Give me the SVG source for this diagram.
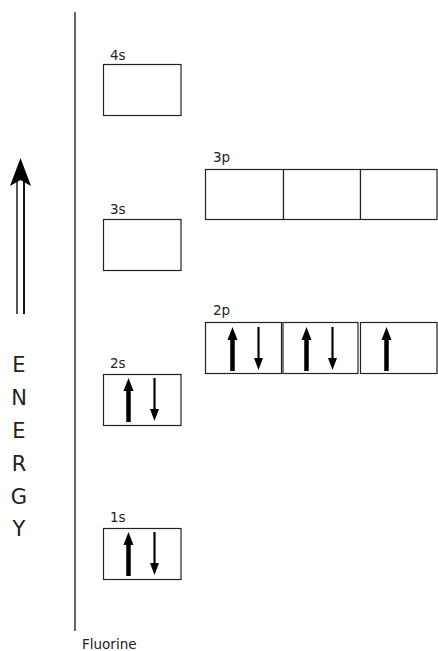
<svg xmlns="http://www.w3.org/2000/svg" width="438" height="651" viewBox="0 0 438 651">
<style>
.box{fill:#fff;stroke:#222;stroke-width:1.2}
.lbl{font-family:"DejaVu Sans","Liberation Sans",sans-serif;font-size:13.5px;fill:#222}
.en{font-family:"DejaVu Sans","Liberation Sans",sans-serif;font-size:21px;fill:#222;text-anchor:middle}
.up{stroke:#000;stroke-width:4.5}
.dn{stroke:#000;stroke-width:2.2}
</style>
<defs>
<symbol id="upA" overflow="visible"><line class="up" x1="0" y1="44" x2="0" y2="10"/><polygon points="0,0 -5,13 5,13" fill="#000"/></symbol>
<symbol id="dnA" overflow="visible"><line class="dn" x1="0" y1="0" x2="0" y2="34"/><polygon points="0,43 -4.5,31 4.5,31" fill="#000"/></symbol>
</defs>
<g id="axis">
<line x1="75" y1="12" x2="75" y2="631" stroke="#333" stroke-width="1.5"/>
<line x1="17" y1="176" x2="17" y2="314" stroke="#555" stroke-width="2"/>
<line x1="24" y1="176" x2="24" y2="314" stroke="#111" stroke-width="2"/>
<polygon points="20.5,158 10,186 20.5,180 31,186" fill="#000"/>
<text class="en" x="19" y="372">E</text>
<text class="en" x="19" y="405">N</text>
<text class="en" x="19" y="438">E</text>
<text class="en" x="19" y="471">R</text>
<text class="en" x="19" y="504">G</text>
<text class="en" x="19" y="536">Y</text>
<text class="lbl" x="82" y="649" font-size="14">Fluorine</text>
</g>
<g id="s4"><text class="lbl" x="110" y="60">4s</text><rect class="box" x="103.5" y="64.5" width="77.5" height="51"/></g>
<g id="s3"><text class="lbl" x="110" y="214">3s</text><rect class="box" x="103.5" y="219.5" width="77.5" height="51"/></g>
<g id="s2"><text class="lbl" x="110" y="368">2s</text><rect class="box" x="103.5" y="374.5" width="77.5" height="51"/>
<use href="#upA" x="128.5" y="378"/><use href="#dnA" x="154.5" y="378"/></g>
<g id="s1"><text class="lbl" x="110" y="522">1s</text><rect class="box" x="103.5" y="528.5" width="77.5" height="51"/>
<use href="#upA" x="128.5" y="532"/><use href="#dnA" x="154.5" y="532"/></g>
<g id="p3"><text class="lbl" x="213" y="162">3p</text>
<rect class="box" x="205.5" y="169.5" width="78" height="50"/>
<rect class="box" x="283.5" y="169.5" width="77" height="50"/>
<rect class="box" x="360.5" y="169.5" width="76.5" height="50"/></g>
<g id="p2"><text class="lbl" x="213" y="315">2p</text>
<rect class="box" x="205.5" y="322.5" width="76" height="51"/>
<rect class="box" x="283" y="322.5" width="75" height="51"/>
<rect class="box" x="360.5" y="322.5" width="76.5" height="51"/>
<use href="#upA" x="232.5" y="327"/><use href="#dnA" x="258.5" y="327"/>
<use href="#upA" x="306.5" y="327"/><use href="#dnA" x="332.5" y="327"/>
<use href="#upA" x="386.5" y="327"/></g>
</svg>
